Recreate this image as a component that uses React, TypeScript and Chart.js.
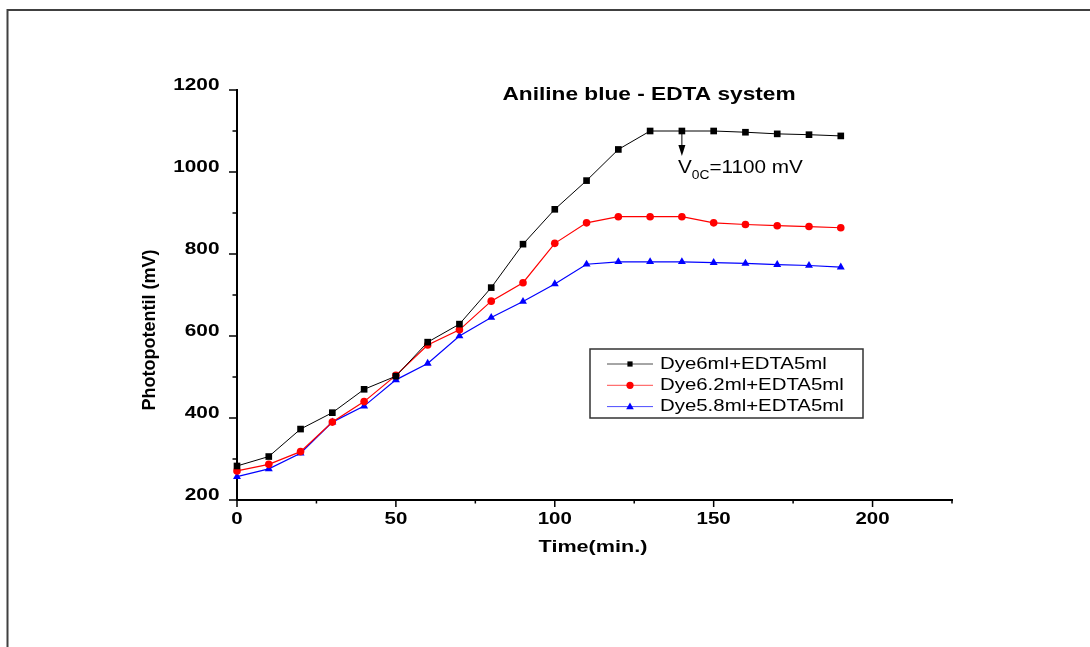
import { useEffect, useRef } from "react";
import { Chart, registerables } from "chart.js";

Chart.register(...registerables);

const times = [0, 10, 20, 30, 40, 50, 60, 70, 80, 90, 100, 110, 120, 130, 140, 150, 160, 170, 180, 190];
const dye6 = [283, 306, 373, 413, 470, 502, 585, 629, 718, 824, 909, 979, 1055, 1100, 1100, 1100, 1097, 1093, 1091, 1088];
const dye62 = [271, 287, 318, 390, 440, 504, 578, 615, 685, 730, 826, 876, 891, 891, 891, 876, 872, 869, 867, 864];
const dye58 = [257, 276, 314, 390, 429, 493, 533, 600, 645, 684, 727, 775, 781, 781, 781, 779, 777, 774, 772, 768];

const seriesLabels = ["Dye6ml+EDTA5ml", "Dye6.2ml+EDTA5ml", "Dye5.8ml+EDTA5ml"];
const seriesColors = ["#000000", "#ff0000", "#0000ff"];
const seriesStyles = ["rect", "circle", "triangle"];

const chartTitle = "Aniline blue - EDTA system";
const xTitle = "Time(min.)";
const yTitle = "Photopotentil (mV)";
const annoMain = "V";
const annoSub = "0C";
const annoRest = "=1100 mV";
const annoX = 140;
const annoY = 1100;

const FONT = "'Liberation Sans', Arial, Helvetica, sans-serif";

function sText(ctx: CanvasRenderingContext2D, text: string, x: number, y: number, font: string, sx: number, align: CanvasTextAlign, baseline: CanvasTextBaseline = "alphabetic") {
  ctx.save();
  ctx.font = font;
  ctx.textAlign = align;
  ctx.textBaseline = baseline;
  ctx.fillStyle = "#000";
  ctx.translate(x, y);
  ctx.scale(sx, 1);
  ctx.fillText(text, 0, 0);
  const w = ctx.measureText(text).width * sx;
  ctx.restore();
  return w;
}

function marker(ctx: CanvasRenderingContext2D, style: string, x: number, y: number, r: number, color: string) {
  ctx.save();
  ctx.fillStyle = color;
  ctx.beginPath();
  if (style === "rect") {
    ctx.rect(x - r, y - r, 2 * r, 2 * r);
  } else if (style === "circle") {
    ctx.arc(x, y, r, 0, Math.PI * 2);
  } else {
    ctx.moveTo(x, y - r * 1.1);
    ctx.lineTo(x + r, y + r * 0.7);
    ctx.lineTo(x - r, y + r * 0.7);
    ctx.closePath();
  }
  ctx.fill();
  ctx.restore();
}

const overlay = {
  id: "overlay",
  afterDraw(chart: any) {
    const ctx: CanvasRenderingContext2D = chart.ctx;
    const xs = chart.scales.x;
    const ys = chart.scales.y;
    const area = chart.chartArea;

    // frame
    ctx.save();
    ctx.strokeStyle = "#404040";
    ctx.lineWidth = 2;
    ctx.beginPath();
    ctx.moveTo(7.5, 647);
    ctx.lineTo(7.5, 10);
    ctx.lineTo(1090, 10);
    ctx.stroke();
    ctx.restore();

    // ticks
    ctx.save();
    ctx.strokeStyle = "#000";
    ctx.lineWidth = 1.5;
    ctx.beginPath();
    for (const t of xs.ticks) {
      const px = xs.getPixelForValue(t.value);
      const major = t.value % 50 === 0;
      ctx.moveTo(px, area.bottom);
      ctx.lineTo(px, area.bottom + (major ? 7 : 3.5));
    }
    for (const t of ys.ticks) {
      const py = ys.getPixelForValue(t.value);
      const major = t.value % 200 === 0;
      ctx.moveTo(area.left, py);
      ctx.lineTo(area.left - (major ? 8 : 4.5), py);
    }
    ctx.stroke();
    ctx.restore();

    const tickFont = `bold 16px ${FONT}`;
    for (const t of xs.ticks) {
      if (t.value % 50 !== 0) continue;
      sText(ctx, String(t.value), xs.getPixelForValue(t.value), area.bottom + 23.5, tickFont, 1.28, "center");
    }
    for (const t of ys.ticks) {
      if (t.value % 200 !== 0) continue;
      sText(ctx, String(t.value), area.left - 17.5, ys.getPixelForValue(t.value), tickFont, 1.3, "right");
    }

    // axis titles
    sText(ctx, xTitle, 593, 552, `bold 16px ${FONT}`, 1.35, "center");
    ctx.save();
    ctx.translate(155, 330);
    ctx.rotate(-Math.PI / 2);
    ctx.font = `bold 18px ${FONT}`;
    ctx.textAlign = "center";
    ctx.textBaseline = "alphabetic";
    ctx.fillStyle = "#000";
    ctx.fillText(yTitle, 0, 0);
    ctx.restore();

    // chart title
    sText(ctx, chartTitle, 649, 100, `bold 18px ${FONT}`, 1.26, "center");

    // annotation arrow
    const ax = xs.getPixelForValue(annoX);
    const ay = ys.getPixelForValue(annoY);
    ctx.save();
    ctx.strokeStyle = "#000";
    ctx.fillStyle = "#000";
    ctx.lineWidth = 1;
    ctx.beginPath();
    ctx.moveTo(ax, ay);
    ctx.lineTo(ax, 148);
    ctx.stroke();
    ctx.beginPath();
    ctx.moveTo(ax, 156);
    ctx.lineTo(ax - 3.5, 145);
    ctx.lineTo(ax + 3.5, 145);
    ctx.closePath();
    ctx.fill();
    ctx.restore();

    let tx = 678;
    tx += sText(ctx, annoMain, tx, 173, `18px ${FONT}`, 1.15, "left");
    tx += sText(ctx, annoSub, tx, 179, `12px ${FONT}`, 1.15, "left");
    sText(ctx, annoRest, tx, 173, `18px ${FONT}`, 1.15, "left");

    // legend
    ctx.save();
    ctx.strokeStyle = "#333";
    ctx.lineWidth = 1.5;
    ctx.strokeRect(590, 349, 273, 69);
    ctx.restore();
    const sizes = [2.6, 3.6, 3.8];
    chart.data.datasets.forEach((ds: any, i: number) => {
      const y = 364 + i * 21.3;
      ctx.save();
      ctx.strokeStyle = ds.borderColor;
      ctx.globalAlpha = 0.7;
      ctx.lineWidth = 1;
      ctx.beginPath();
      ctx.moveTo(607, y);
      ctx.lineTo(653, y);
      ctx.stroke();
      ctx.restore();
      marker(ctx, seriesStyles[i], 630, y, sizes[i], ds.borderColor);
      sText(ctx, ds.label, 660, y, `17px ${FONT}`, 1.2, "left", "middle");
    });
  },
};

export default function App() {
  const ref = useRef<HTMLCanvasElement | null>(null);
  useEffect(() => {
    if (!ref.current) return;
    const allSeries = [dye6, dye62, dye58];
    const radii = [4.7, 3.8, 4.6];
    const chart = new Chart(ref.current, {
      type: "line",
      data: {
        datasets: allSeries.map((s, i) => ({
          label: seriesLabels[i],
          data: times.map((t, j) => ({ x: t, y: s[j] })),
          borderColor: seriesColors[i],
          backgroundColor: seriesColors[i],
          pointBackgroundColor: seriesColors[i],
          pointBorderColor: seriesColors[i],
          pointBorderWidth: 0,
          pointStyle: seriesStyles[i] as any,
          pointRadius: radii[i],
          borderWidth: i === 0 ? 1 : 1.2,
          tension: 0,
          fill: false,
          clip: false as any,
        })),
      },
      options: {
        responsive: false,
        animation: false,
        devicePixelRatio: 1,
        layout: { padding: { top: 90, right: 138, left: 0, bottom: 0 } },
        plugins: { legend: { display: false }, tooltip: { enabled: false }, title: { display: false } },
        scales: {
          x: {
            type: "linear",
            min: 0,
            max: 225,
            ticks: { stepSize: 25, display: false },
            grid: { display: false },
            border: { display: true, color: "#000", width: 2 },
            afterFit: (s: any) => { s.height = 147; },
          },
          y: {
            type: "linear",
            min: 200,
            max: 1200,
            ticks: { stepSize: 100, display: false },
            grid: { display: false },
            border: { display: true, color: "#000", width: 2 },
            afterFit: (s: any) => { s.width = 237; },
          },
        },
      },
      plugins: [overlay],
    });
    return () => chart.destroy();
  }, []);
  return (
    <div style={{ position: "fixed", left: 0, top: 0, width: 1090, height: 647, background: "#fff" }}>
      <canvas ref={ref} width={1090} height={647} />
    </div>
  );
}
